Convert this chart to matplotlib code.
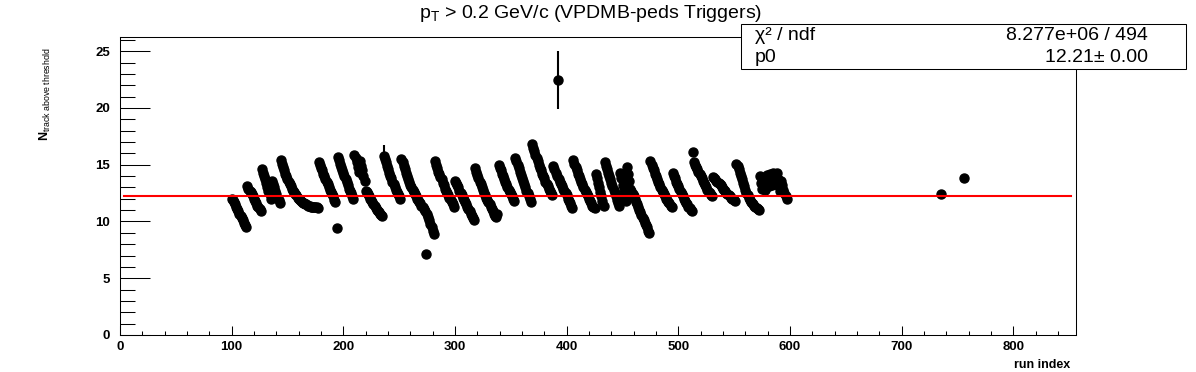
import numpy as np
import matplotlib.pyplot as plt
from matplotlib.ticker import MultipleLocator
from matplotlib.patches import Rectangle

plt.rcParams['font.family'] = 'Liberation Sans'
plt.rcParams['mathtext.fontset'] = 'custom'
plt.rcParams['mathtext.rm'] = 'Liberation Sans'
plt.rcParams['mathtext.it'] = 'Liberation Sans:italic'
plt.rcParams['mathtext.bf'] = 'Liberation Sans:bold'

# Mean number of tracks per run; each run is one point, runs numbered consecutively
seg_starts = [100, 114, 127, 136, 144, 178, 194, 195, 210, 215, 220, 236, 252, 274, 275,
              282, 300, 318, 339, 354, 369, 388, 392, 393, 406, 426, 434, 448, 457, 475,
              495, 513, 514, 531, 552, 573, 592]
seg_values = [
    [12.0, 11.9, 11.7, 11.5, 11.3, 11.1, 10.9, 10.7, 10.5, 10.3, 10.1, 9.9, 9.7, 9.5],
    [13.1, 12.9, 12.7, 12.6, 12.4, 12.2, 12.0, 11.8, 11.6, 11.4, 11.3, 11.1, 10.9],
    [14.6, 14.3, 14.0, 13.7, 13.4, 13.0, 12.7, 12.4, 12.0],
    [13.6, 13.3, 13.0, 12.7, 12.4, 12.1, 11.9, 11.6],
    [15.4, 15.1, 14.8, 14.5, 14.2, 14.0, 13.7, 13.5, 13.3, 13.1, 12.9, 12.7, 12.6, 12.4,
     12.3, 12.1, 12.0, 11.9, 11.8, 11.7, 11.6, 11.6, 11.5, 11.5, 11.4, 11.4, 11.4, 11.3,
     11.3, 11.3, 11.3, 11.3, 11.3, 11.2],
    [15.2, 15.0, 14.7, 14.5, 14.2, 14.0, 13.7, 13.5, 13.3, 13.0, 12.8, 12.6, 12.4, 12.2,
     11.9, 11.7],
    [9.4],
    [15.7, 15.4, 15.1, 14.8, 14.5, 14.3, 14.0, 13.7, 13.5, 13.2, 12.9, 12.7, 12.5, 12.2, 12.0],
    [15.9, 15.6, 15.2, 14.8, 14.4],
    [15.3, 14.9, 14.5, 14.0, 13.6],
    [12.7, 12.6, 12.4, 12.2, 12.0, 11.9, 11.7, 11.5, 11.4, 11.2, 11.0, 10.9, 10.8, 10.7,
     10.6, 10.5],
    [15.8, 15.5, 15.2, 14.9, 14.6, 14.3, 14.0, 13.8, 13.5, 13.3, 13.0, 12.8, 12.6, 12.4,
     12.2, 12.0],
    [15.5, 15.2, 14.9, 14.6, 14.3, 14.0, 13.7, 13.5, 13.2, 13.0, 12.8, 12.6, 12.4, 12.2,
     12.0, 11.9, 11.7, 11.6, 11.4, 11.3, 11.1, 10.9],
    [7.1],
    [10.7, 10.4, 10.1, 9.8, 9.5, 9.2, 8.9],
    [15.3, 15.0, 14.7, 14.4, 14.2, 13.9, 13.7, 13.4, 13.2, 12.9, 12.7, 12.5, 12.3, 12.1,
     11.9, 11.7, 11.5, 11.3],
    [13.6, 13.4, 13.2, 13.0, 12.7, 12.5, 12.3, 12.1, 11.9, 11.7, 11.5, 11.3, 11.1, 10.9,
     10.7, 10.5, 10.3, 10.1],
    [14.7, 14.4, 14.1, 13.8, 13.5, 13.3, 13.0, 12.8, 12.5, 12.3, 12.1, 11.9, 11.7, 11.5,
     11.3, 11.1, 10.9, 10.7, 10.5, 10.4, 10.7],
    [15.0, 14.7, 14.5, 14.2, 14.0, 13.7, 13.5, 13.3, 13.0, 12.8, 12.6, 12.4, 12.2, 12.0, 11.8],
    [15.6, 15.3, 15.0, 14.7, 14.4, 14.1, 13.8, 13.6, 13.3, 13.0, 12.7, 12.5, 12.2, 12.0, 11.7],
    [16.8, 16.5, 16.2, 15.9, 15.6, 15.3, 15.0, 14.7, 14.5, 14.2, 14.0, 13.8, 13.5, 13.3,
     13.1, 12.9, 12.7, 12.5, 12.3],
    [14.9, 14.6, 14.3, 14.0],
    [22.5],
    [13.7, 13.5, 13.3, 13.1, 12.9, 12.7, 12.5, 12.3, 12.0, 11.8, 11.6, 11.4, 11.2],
    [15.4, 15.1, 14.8, 14.5, 14.2, 14.0, 13.7, 13.5, 13.3, 13.0, 12.8, 12.6, 12.4, 12.2,
     12.0, 11.8, 11.6, 11.4, 11.3, 11.2],
    [14.2, 13.8, 13.4, 13.0, 12.6, 12.2, 11.8, 11.4],
    [15.2, 14.9, 14.6, 14.3, 14.0, 13.7, 13.4, 13.1, 12.8, 12.5, 12.2, 11.9, 11.6, 11.4],
    [14.3, 13.8, 13.2, 12.7, 12.2, 11.8, 14.8, 14.2, 13.6],
    [12.9, 12.7, 12.4, 12.2, 12.0, 11.7, 11.5, 11.3, 11.0, 10.8, 10.6, 10.3, 10.1, 9.9,
     9.7, 9.5, 9.2, 9.0],
    [15.3, 15.0, 14.7, 14.5, 14.2, 14.0, 13.7, 13.5, 13.3, 13.0, 12.8, 12.6, 12.4, 12.2,
     12.0, 11.9, 11.7, 11.6, 11.4, 11.3],
    [14.3, 14.0, 13.8, 13.5, 13.3, 13.1, 12.9, 12.6, 12.4, 12.2, 12.0, 11.8, 11.6, 11.5,
     11.3, 11.2, 11.0, 10.9],
    [16.1],
    [15.2, 15.0, 14.8, 14.6, 14.4, 14.2, 14.0, 13.8, 13.6, 13.4, 13.2, 13.0, 12.8, 12.6,
     12.5, 12.3, 12.2],
    [13.9, 13.8, 13.7, 13.6, 13.5, 13.4, 13.3, 13.2, 13.0, 12.9, 12.8, 12.7, 12.5, 12.4,
     12.3, 12.2, 12.1, 12.0, 12.0, 11.9, 11.8],
    [15.1, 14.9, 14.6, 14.3, 14.0, 13.7, 13.4, 13.1, 12.8, 12.5, 12.3, 12.1, 11.9, 11.7,
     11.6, 11.5, 11.4, 11.3, 11.2, 11.1, 11.0],
    [14.0, 13.4, 12.9, 13.8, 13.3, 12.8, 14.1, 13.6, 13.1, 14.2, 13.7, 13.2, 14.3, 13.8,
     13.3, 14.3, 13.7, 13.1, 12.7],
    [13.6, 13.2, 12.8, 12.5, 12.2, 12.0],
]
extra_runs = [735, 756]
extra_vals = [12.4, 13.8]

# runs with visible error bars
err_runs = [236, 392]
err_vals = [15.8, 22.5]
err_size = [0.9, 2.55]

# fit result (pol0)
p0 = 12.21
fit_range = [4, 852]

runs = np.concatenate([np.arange(s, s + len(v)) for s, v in zip(seg_starts, seg_values)])
vals = np.concatenate(seg_values)
runs = np.append(runs, extra_runs)
vals = np.append(vals, extra_vals)

fig = plt.figure(figsize=(11.96, 3.72), dpi=100)
ax = fig.add_axes([0.1003, 0.0995, 0.7993, 0.801])

ax.errorbar(err_runs, err_vals, yerr=err_size, fmt='none', ecolor='black',
            elinewidth=1.5, capsize=0, zorder=2)
ax.plot(runs, vals, 'o', color='black', ms=6.5, zorder=3)
ax.plot(fit_range, [p0, p0], color='red', lw=1.5, zorder=4)

ax.set_xlim(0, 856)
ax.set_ylim(0, 26.25)
ax.xaxis.set_major_locator(MultipleLocator(100))
ax.xaxis.set_minor_locator(MultipleLocator(20))
ax.yaxis.set_major_locator(MultipleLocator(5))
ax.yaxis.set_minor_locator(MultipleLocator(1))
ax.tick_params(which='both', direction='in', top=False, right=False, width=0.75)
ax.tick_params(axis='y', which='major', length=21.4, pad=7)
ax.tick_params(axis='y', which='minor', length=10.5)
ax.tick_params(axis='x', which='major', length=6.5, pad=4)
ax.tick_params(axis='x', which='minor', length=3.2)
for lab in ax.get_xticklabels() + ax.get_yticklabels():
    lab.set_fontweight('bold')
    lab.set_fontsize(9.5)
for sp in ax.spines.values():
    sp.set_linewidth(0.75)

fig.text(0.494, 0.965, r'p$_{\mathrm{T}}$ > 0.2 GeV/c (VPDMB-peds Triggers)',
         ha='center', va='center', fontsize=14)
fig.text(0.0376, 0.8737, r'$\mathbf{N}_{\mathrm{track\ above\ threshold}}$',
         rotation=90, ha='center', va='top', fontsize=9)
fig.text(0.8946, 0.0188, 'run index', ha='right', va='center', fontsize=9,
         fontweight='bold')

# stats box
fig.add_artist(Rectangle((741 / 1196, 1 - 69 / 372), 445 / 1196, 45 / 372,
                         transform=fig.transFigure, fc='white', ec='black',
                         lw=0.75, zorder=5))
fig.text(755 / 1196, 1 - 36 / 372, 'χ² / ndf', ha='left', va='center',
         fontsize=14, zorder=6)
fig.text(1148 / 1196, 1 - 36 / 372, '8.277e+06 / 494', ha='right', va='center',
         fontsize=14, zorder=6)
fig.text(755 / 1196, 1 - 58 / 372, 'p0', ha='left', va='center', fontsize=14, zorder=6)
fig.text(1148 / 1196, 1 - 58 / 372, '12.21± 0.00', ha='right', va='center',
         fontsize=14, zorder=6)

fig.savefig('out.png', dpi=100)
